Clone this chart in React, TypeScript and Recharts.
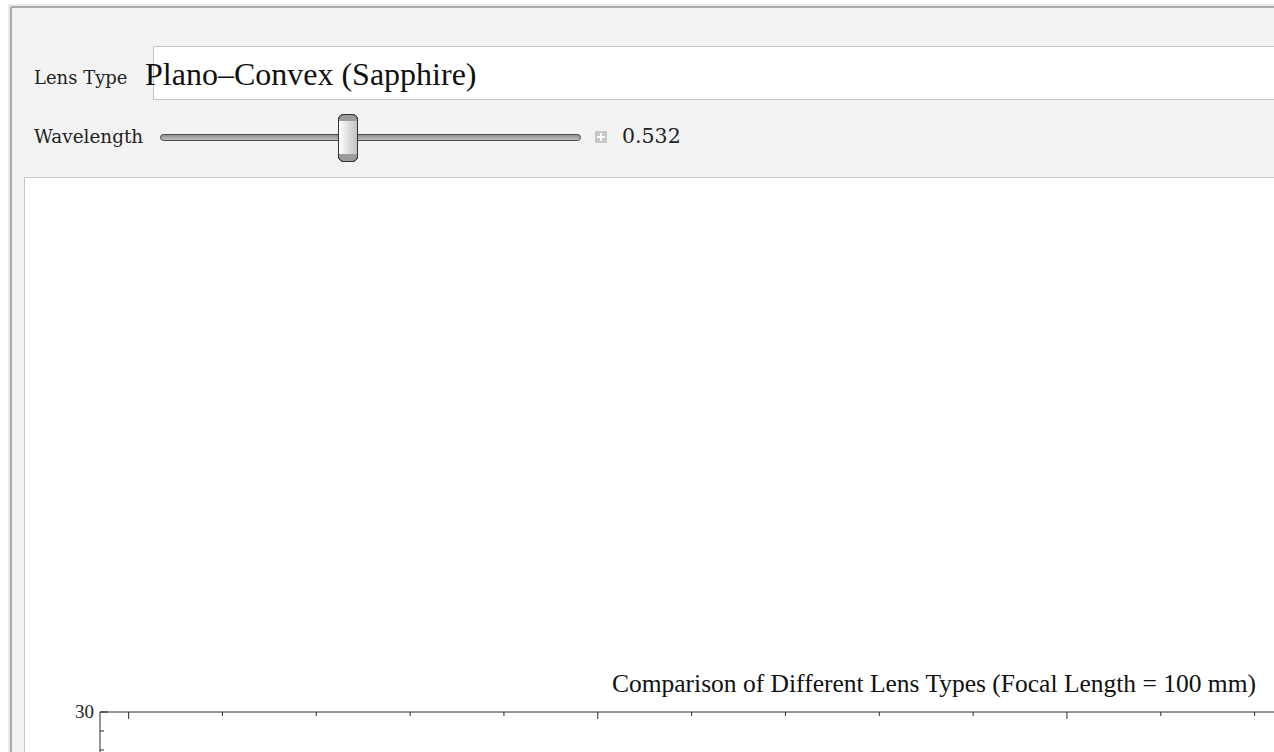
import { LineChart, Line, XAxis, YAxis } from "recharts";

// wavelength samples (um) and spot size per lens type
const wavelengths = [0.5, 0.6, 0.7, 0.8, 0.9, 1.0, 1.1, 1.2, 1.3, 1.4, 1.5, 1.6, 1.7, 1.8, 1.9, 2.0, 2.1, 2.2];
const plano_bk7 = [22.1, 18.4, 15.6, 13.5, 11.9, 10.7, 9.8, 9.1, 8.6, 8.2, 7.9, 7.7, 7.6, 7.5, 7.5, 7.6, 7.7, 7.9];
const plano_sapphire = [24.8, 20.6, 17.5, 15.1, 13.3, 11.9, 10.8, 10.0, 9.4, 8.9, 8.5, 8.2, 8.0, 7.9, 7.8, 7.8, 7.9, 8.0];
const plano_silica = [19.6, 16.3, 13.9, 12.1, 10.7, 9.7, 8.9, 8.3, 7.9, 7.5, 7.3, 7.1, 7.0, 6.9, 6.9, 7.0, 7.1, 7.2];
const achromat = [6.2, 5.1, 4.4, 3.9, 3.6, 3.5, 3.5, 3.6, 3.8, 4.1, 4.5, 4.9, 5.4, 5.9, 6.5, 7.1, 7.8, 8.5];

const xTicks = [0.5, 0.6, 0.7, 0.8, 0.9, 1.0, 1.1, 1.2, 1.3, 1.4, 1.5, 1.6, 1.7, 1.8, 1.9, 2.0, 2.1, 2.2];
const yTicks = [0, 1, 2, 3, 4, 5, 6, 7, 8, 9, 10, 11, 12, 13, 14, 15, 16, 17, 18, 19, 20, 21, 22, 23, 24, 25, 26, 27, 28, 29, 30];

const lensType = "Plano\u2013Convex (Sapphire)";
const wavelength = "0.532";
const title = "Comparison of Different Lens Types (Focal Length = 100 mm)";

const rows = wavelengths.map((w, i) => ({
  w,
  bk7: plano_bk7[i],
  sapphire: plano_sapphire[i],
  silica: plano_silica[i],
  achromat: achromat[i],
}));

const frame = "#2b2b2b";
const serif = "'Liberation Serif', 'Times New Roman', serif";
const uiFont = "'DejaVu Serif', serif";

const isMajorX = (v: number) => Math.abs(v * 2 - Math.round(v * 2)) < 1e-6;
const isMajorY = (v: number) => v % 5 === 0;

const TopTick = (props: any) => {
  const { x, y, payload } = props;
  const len = isMajorX(payload.value) ? 7 : 4;
  return <line x1={x} x2={x} y1={y} y2={y + len} stroke={frame} />;
};

const BottomTick = (props: any) => {
  const { x, y, payload } = props;
  const major = isMajorX(payload.value);
  return (
    <g>
      <line x1={x} x2={x} y1={y} y2={y - (major ? 7 : 4)} stroke={frame} />
      {major && (
        <text x={x} y={y + 20} textAnchor="middle" fontSize={18} fontFamily={serif} fill="#222">
          {payload.value.toFixed(1)}
        </text>
      )}
    </g>
  );
};

const LeftTick = (props: any) => {
  const { x, y, payload } = props;
  const major = isMajorY(payload.value);
  return (
    <g>
      <line x1={x} x2={x + (major ? 8 : 4)} y1={y} y2={y} stroke={frame} />
      {major && (
        <text x={x - 6} y={y + 6} textAnchor="end" fontSize={19} fontFamily={serif} fill="#222">
          {payload.value}
        </text>
      )}
    </g>
  );
};

const RightTick = (props: any) => {
  const { x, y, payload } = props;
  const len = isMajorY(payload.value) ? 8 : 4;
  return <line x1={x} x2={x - len} y1={y} y2={y} stroke={frame} />;
};

const Chrome = () => (
  <svg width={1274} height={752} style={{ position: "absolute", left: 0, top: 0 }}>
    <defs>
      <linearGradient id="track" x1="0" y1="0" x2="0" y2="1">
        <stop offset="0" stopColor="#8c8c8c" />
        <stop offset="1" stopColor="#c4c4c4" />
      </linearGradient>
      <linearGradient id="thumb" x1="0" y1="0" x2="1" y2="0">
        <stop offset="0" stopColor="#ffffff" />
        <stop offset="1" stopColor="#c2c2c2" />
      </linearGradient>
    </defs>
    {/* outer panel */}
    <rect x={9} y={5} width={1300} height={800} fill="#f3f3f3" stroke="#d8d8d8" />
    <line x1={11} x2={1300} y1={7} y2={7} stroke="#ababab" strokeWidth={2} />
    <line x1={11} x2={11} y1={7} y2={800} stroke="#ababab" strokeWidth={2} />
    {/* lens type input */}
    <rect x={153.5} y={46.5} width={1200} height={53} fill="#ffffff" stroke="#c4c4c4" />
    <text x={34} y={84} fontSize={18} fontFamily={uiFont} fill="#222">Lens Type</text>
    <text x={145} y={85} fontSize={32} fontFamily={serif} fill="#111">{lensType}</text>
    {/* wavelength slider */}
    <text x={34} y={143} fontSize={18.4} fontFamily={uiFont} fill="#222">Wavelength</text>
    <rect x={160.5} y={134.5} width={420} height={6} rx={3} fill="url(#track)" stroke="#4a4a4a" />
    <rect x={338.5} y={114.5} width={19} height={47} rx={5} fill="#9c9c9c" stroke="#333" />
    <rect x={339} y={121} width={18} height={33} fill="url(#thumb)" />
    <rect x={338.5} y={114.5} width={19} height={47} rx={5} fill="none" stroke="#333" />
    <rect x={595} y={131} width={12} height={12} fill="#c8c8c8" />
    <line x1={597} x2={605} y1={137} y2={137} stroke="#fff" strokeWidth={2} />
    <line x1={601} x2={601} y1={133} y2={141} stroke="#fff" strokeWidth={2} />
    <text x={622} y={143} fontSize={20.5} fontFamily={uiFont} fill="#222">{wavelength}</text>
    {/* output pane */}
    <rect x={24.5} y={177.5} width={1300} height={700} fill="#ffffff" stroke="#c6c6c6" />
    <text x={934} y={692} textAnchor="middle" fontSize={25.5} fontFamily={serif} fill="#111">{title}</text>
  </svg>
);

export default function App() {
  return (
    <div style={{ position: "absolute", left: 0, top: 0, width: 1274, height: 752, overflow: "hidden", background: "#fff" }}>
      <Chrome />
      <div style={{ position: "absolute", left: 25, top: 178 }}>
        <LineChart width={1771} height={1194} data={rows} margin={{ top: 533, right: 29, bottom: 50, left: 0 }}>
          <XAxis
            xAxisId="top"
            orientation="top"
            type="number"
            dataKey="w"
            domain={[0.4695, 2.245]}
            ticks={xTicks}
            interval={0}
            height={1}
            tickSize={0}
            tickMargin={0}
            tickLine={false}
            tick={<TopTick />}
            axisLine={{ stroke: frame }}
          />
          <XAxis
            xAxisId="bottom"
            orientation="bottom"
            type="number"
            dataKey="w"
            domain={[0.4695, 2.245]}
            ticks={xTicks}
            interval={0}
            height={40}
            tickSize={0}
            tickMargin={0}
            tickLine={false}
            tick={<BottomTick />}
            axisLine={{ stroke: frame }}
          />
          <YAxis
            yAxisId="left"
            type="number"
            domain={[0, 30]}
            ticks={yTicks}
            interval={0}
            width={75}
            tickSize={0}
            tickMargin={0}
            tickLine={false}
            tick={<LeftTick />}
            axisLine={{ stroke: frame }}
          />
          <YAxis
            yAxisId="right"
            orientation="right"
            type="number"
            domain={[0, 30]}
            ticks={yTicks}
            interval={0}
            width={1}
            tickSize={0}
            tickMargin={0}
            tickLine={false}
            tick={<RightTick />}
            axisLine={{ stroke: frame }}
          />
          <Line xAxisId="top" yAxisId="left" dataKey="bk7" stroke="#5E81B5" strokeWidth={2} dot={false} isAnimationActive={false} />
          <Line xAxisId="top" yAxisId="left" dataKey="sapphire" stroke="#E19C24" strokeWidth={2} dot={false} isAnimationActive={false} />
          <Line xAxisId="top" yAxisId="left" dataKey="silica" stroke="#8FB032" strokeWidth={2} dot={false} isAnimationActive={false} />
          <Line xAxisId="top" yAxisId="left" dataKey="achromat" stroke="#EB6235" strokeWidth={2} dot={false} isAnimationActive={false} />
        </LineChart>
      </div>
    </div>
  );
}
